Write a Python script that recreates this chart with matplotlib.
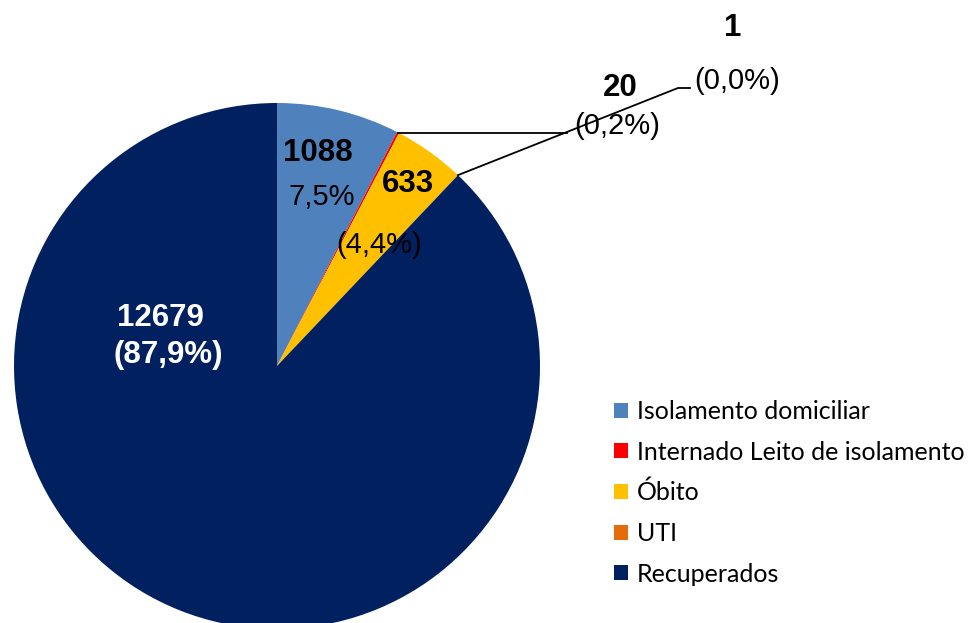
import numpy as np
import matplotlib.pyplot as plt

W, H = 971, 623

categorias = ["Isolamento domiciliar", "Internado Leito de isolamento", "Óbito", "UTI", "Recuperados"]
valores = [1088, 20, 633, 1, 12679]
percentuais = ["7,5%", "(0,2%)", "(4,4%)", "(0,0%)", "(87,9%)"]
cores = ["#4F81BD", "#FF0000", "#FFC000", "#E46C0A", "#002060"]

plt.rcParams['font.family'] = ['Liberation Sans', 'DejaVu Sans']

fig = plt.figure(figsize=(W / 100, H / 100), dpi=100)
ax = fig.add_axes([0, 0, 1, 1])

cx, cy, r = 277, H - 366, 263
wedges, _ = ax.pie(valores, colors=cores, startangle=90, counterclock=False,
                   center=(cx, cy), radius=r, frame=True,
                   wedgeprops=dict(linewidth=0))
ax.set_xlim(0, W)
ax.set_ylim(0, H)
ax.set_aspect('equal')
ax.axis('off')


def borda(i):
    w = wedges[i]
    ang = np.deg2rad((w.theta1 + w.theta2) / 2)
    return cx + r * np.cos(ang), cy + r * np.sin(ang)


def txt(x, y, s, **kw):
    ax.text(x, H - y, s, ha='center', va='center', **kw)


# linhas de chamada
x0, y0 = borda(1)
ax.plot([x0, 567], [y0, y0], color='black', lw=1.3)
x0, y0 = borda(3)
ax.plot([x0, 678, 690], [y0, H - 88, H - 88], color='black', lw=1.3)

fs_b, fs_n = 22.5, 21
txt(318, 153, str(valores[0]), fontsize=fs_b, fontweight='bold')
txt(322, 197, percentuais[0], fontsize=fs_n)
txt(620, 88, str(valores[1]), fontsize=fs_b, fontweight='bold')
txt(617, 126, percentuais[1], fontsize=fs_n)
txt(408, 184, str(valores[2]), fontsize=fs_b, fontweight='bold')
txt(379, 245, percentuais[2], fontsize=fs_n)
txt(733, 28, str(valores[3]), fontsize=fs_b, fontweight='bold')
txt(737, 81, percentuais[3], fontsize=fs_n)
txt(160, 318, str(valores[4]), fontsize=fs_b, fontweight='bold', color='white')
txt(168, 355, percentuais[4], fontsize=fs_b, fontweight='bold', color='white')

leg = ax.legend(wedges, categorias, loc='upper left',
                bbox_to_anchor=(604 / W, 1 - 390 / H), frameon=False,
                prop={'family': ['Lato', 'DejaVu Sans'], 'size': 18},
                handlelength=0.55, handleheight=0.55, handletextpad=0.35,
                labelspacing=0.7, borderaxespad=0)

fig.savefig("out.png", dpi=100)
